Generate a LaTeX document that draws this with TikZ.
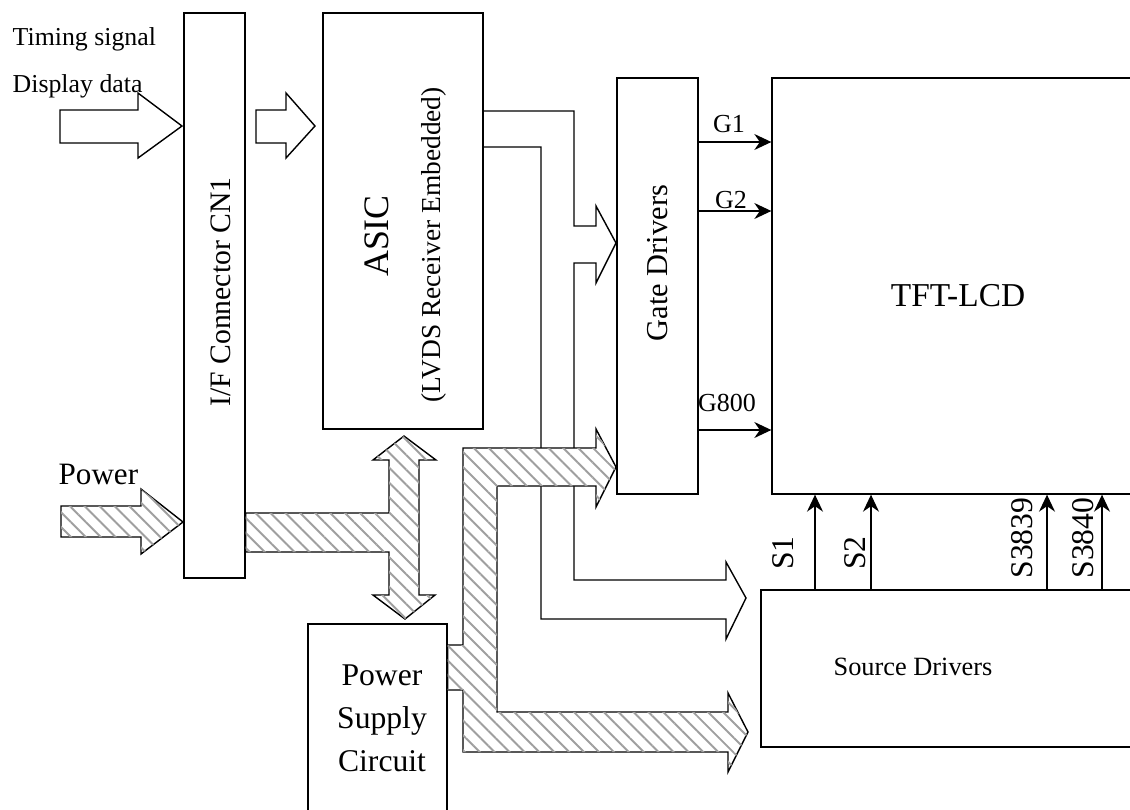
\documentclass[tikz,border=0pt]{standalone}
\usepackage{fontspec}
\setmainfont{Liberation Serif}
\usetikzlibrary{arrows.meta,patterns.meta}

\begin{document}
\begin{tikzpicture}[
        x=0.02cm, y=-0.02cm,
        >={Stealth[length=3.4mm,width=3.2mm]},
        line width=0.8pt,
        block/.style={draw, inner sep=0pt},
        txt/.style={inner sep=0pt},
        hollow/.style={draw, fill=white},
        hatched/.style={draw, fill=white,
            postaction={pattern={Lines[angle=-45,distance=6pt,line width=1.1pt]}, pattern color=gray!75}}
        ]
        \useasboundingbox (0,0) rectangle (1130,809);
        \clip (0,0) rectangle (1130,809);

        % blocks
        \node[block, minimum width=1.22cm, minimum height=11.3cm] (ifc) at (214.5,295.5) {};
        \node[block, minimum width=3.2cm, minimum height=8.32cm] (asic) at (403,221) {};
        \node[block, minimum width=1.62cm, minimum height=8.32cm] (gate) at (657.5,286) {};
        \node[block, minimum width=7.36cm, minimum height=8.32cm] (tft) at (956,286) {};
        \node[block, minimum width=7.58cm, minimum height=3.14cm] (src) at (950.5,668.5) {};
        \node[block, minimum width=2.78cm, minimum height=4.12cm] (psu) at (377.5,727) {};

        % block texts
        \node[txt, rotate=90, font=\fontsize{16.9}{20}\selectfont] (iftxt) at (221,292) {I/F Connector CN1};
        \node[txt, rotate=90, font=\fontsize{20.4}{24}\selectfont] (asictxt) at (377,236) {ASIC};
        \node[txt, rotate=90, font=\fontsize{15.6}{19}\selectfont] (lvdstxt) at (434,245) {(LVDS Receiver Embedded)};
        \node[txt, rotate=90, font=\fontsize{17.3}{20}\selectfont] (gatetxt) at (658,263) {Gate Drivers};
        \node[txt, font=\fontsize{19}{22}\selectfont] (tfttxt) at (958,296) {TFT-LCD};
        \node[txt, font=\fontsize{15}{18}\selectfont] (srctxt) at (913,667) {Source Drivers};
        \node[txt, align=center, font=\fontsize{18}{24.4}\selectfont] (psutxt) at (382,718) {Power\\Supply\\Circuit};
        \node[txt, anchor=west, font=\fontsize{14.7}{17}\selectfont] (timing) at (12,39) {Timing signal};
        \node[txt, anchor=west, font=\fontsize{14.7}{17}\selectfont] (display) at (12,86) {Display data};
        \node[txt, anchor=west, font=\fontsize{17.7}{20}\selectfont] (power) at (58,474) {Power};

        % input block arrows
        \path[hollow] (60,110) -- (138,110) -- (138,93) -- (182,126) -- (138,158) -- (138,143) -- (60,143) -- cycle;
        \path[hollow] (256,110) -- (286,110) -- (286,93) -- (315,126) -- (286,158) -- (286,143) -- (256,143) -- cycle;
        \path[hatched] (61,506) -- (141,506) -- (141,489) -- (183,522) -- (141,554) -- (141,537) -- (61,537) -- cycle;
        \path[hatched] (ifc.east |- 0,513) -- (389,513) -- (389,460) -- (373,460) -- (404,436) -- (436,460) -- (419,460)
            -- (419,595) -- (435,595) -- (405,619) -- (373,595) -- (389,595) -- (389,552) -- (ifc.east |- 0,552) -- cycle;

        % control signals from the ASIC
        \draw (asic.east |- 0,111) -- (574,111) -- (574,226) -- (596,226) -- (596,206) -- (616,243) -- (596,283)
            -- (596,263) -- (574,263) -- (574,580) -- (726,580) -- (726,562) -- (746,598) -- (726,639)
            -- (726,619) -- (541,619) -- (541,147) -- (asic.east |- 0,147);

        % supply from the power circuit
        \path[hatched] (psu.east |- 0,645) -- (463,645) -- (463,448) -- (596,448) -- (596,429) -- (616,467) -- (596,507)
            -- (596,486) -- (497,486) -- (497,712) -- (728,712) -- (728,693) -- (748,732) -- (728,772)
            -- (728,752) -- (463,752) -- (463,690) -- (psu.east |- 0,690) -- cycle;

        % gate lines
        \coordinate (g1) at (0,142);
        \coordinate (g2) at (0,211);
        \coordinate (g800) at (0,430);
        \path[->]
              (g1 -| gate.east) edge (g1 -| tft.west)
              (g2 -| gate.east) edge (g2 -| tft.west)
              (g800 -| gate.east) edge (g800 -| tft.west);
        \node[txt, font=\fontsize{14.8}{17}\selectfont] (g1txt) at (729,124) {G1};
        \node[txt, font=\fontsize{14.8}{17}\selectfont] (g2txt) at (731,200) {G2};
        \node[txt, font=\fontsize{14.8}{17}\selectfont] (g800txt) at (727,403) {G800};

        % source lines
        \coordinate (s1) at (815,0);
        \coordinate (s2) at (871,0);
        \coordinate (s3839) at (1047,0);
        \coordinate (s3840) at (1102,0);
        \path[->]
              (s1 |- src.north) edge (s1 |- tft.south)
              (s2 |- src.north) edge (s2 |- tft.south)
              (s3839 |- src.north) edge (s3839 |- tft.south)
              (s3840 |- src.north) edge (s3840 |- tft.south);
        \node[txt, rotate=90, font=\fontsize{18}{21}\selectfont] (s1txt) at (783,553) {S1};
        \node[txt, rotate=90, font=\fontsize{18}{21}\selectfont] (s2txt) at (855,553) {S2};
        \node[txt, rotate=90, font=\fontsize{18}{21}\selectfont] (s3839txt) at (1022,538) {S3839};
        \node[txt, rotate=90, font=\fontsize{18}{21}\selectfont] (s3840txt) at (1083,538) {S3840};
\end{tikzpicture}
\end{document}
